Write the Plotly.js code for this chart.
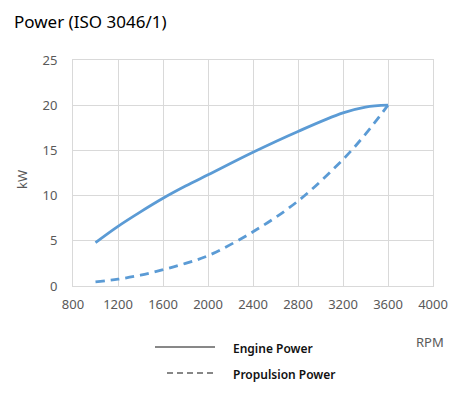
<!DOCTYPE html>
<html><head><meta charset="utf-8">
<script src="https://cdn.plot.ly/plotly-3.0.1.min.js"></script>
<style>html,body{margin:0;padding:0;background:#fff}#chart{width:468px;height:400px}</style>
</head><body><div id="chart"></div>
<script>
const rpm = [1000, 1200, 1400, 1600, 1800, 2000, 2400, 2800, 3200, 3400, 3600];
const enginePower = [4.8, 6.6, 8.2, 9.7, 11.05, 12.3, 14.8, 17.1, 19.15, 19.8, 20.0];
const propulsionPower = [0.45, 0.75, 1.2, 1.8, 2.5, 3.35, 6.0, 9.4, 14.0, 16.8, 20.0];
const xTicks = [800, 1200, 1600, 2000, 2400, 2800, 3200, 3600, 4000];
const yTicks = [0, 5, 10, 15, 20, 25];
const seriesNames = ['Engine Power', 'Propulsion Power'];

const blue = '#5B9BD5';
const grid = '#d9d9d9';
const tickFont = {family: 'Noto Sans, Open Sans, sans-serif', size: 13, color: '#595959'};
const legFont = {family: 'Noto Sans, sans-serif', size: 12, color: '#111', weight: 600};

const traces = [
  {x: rpm, y: enginePower, name: seriesNames[0], mode: 'lines', line: {color: blue, width: 2.8, shape: 'spline'}},
  {x: rpm, y: propulsionPower, name: seriesNames[1], mode: 'lines', line: {color: blue, width: 2.8, shape: 'spline', dash: '9px,6px'}}
];

const W = 360, H = 226;
const px = v => (v - 73) / W;
const py = v => (286 - v) / H;

const layout = {
  width: 468, height: 400,
  margin: {l: 73, r: 35, t: 60, b: 114},
  paper_bgcolor: '#fff', plot_bgcolor: '#fff',
  showlegend: false,
  title: {text: 'Power (ISO 3046/1)', x: 14/468, xanchor: 'left', y: 1 - 22/400, yanchor: 'middle',
          font: {family: 'Noto Sans, Open Sans, sans-serif', size: 17, color: '#000'}},
  xaxis: {range: [800, 4000], tickvals: xTicks, ticktext: xTicks.map(String), showgrid: true, gridcolor: grid, gridwidth: 1,
          showline: true, mirror: true, linecolor: grid, linewidth: 1, zeroline: false, ticks: '',
          tickfont: tickFont, ticklabelstandoff: 6, fixedrange: true},
  yaxis: {range: [0, 25], tickvals: yTicks, ticktext: yTicks.map(String), showgrid: true, gridcolor: grid, gridwidth: 1,
          showline: true, mirror: true, linecolor: grid, linewidth: 1, zeroline: false, ticks: '',
          tickfont: tickFont, ticklabelstandoff: 12, fixedrange: true},
  annotations: [
    {text: 'kW', xref: 'paper', yref: 'paper', x: px(22), y: py(180), textangle: -90, showarrow: false,
     xanchor: 'center', yanchor: 'middle', font: tickFont},
    {text: 'RPM', xref: 'paper', yref: 'paper', x: px(430), y: py(342), showarrow: false,
     xanchor: 'center', yanchor: 'middle', font: tickFont},
    {text: seriesNames[0], xref: 'paper', yref: 'paper', x: px(231), y: py(348), showarrow: false,
     xanchor: 'left', yanchor: 'middle', font: legFont},
    {text: seriesNames[1], xref: 'paper', yref: 'paper', x: px(231), y: py(374), showarrow: false,
     xanchor: 'left', yanchor: 'middle', font: legFont}
  ],
  shapes: [
    {type: 'line', xref: 'paper', yref: 'paper', x0: px(155), x1: px(215), y0: py(347), y1: py(347),
     line: {color: '#111', width: 1}},
    {type: 'line', xref: 'paper', yref: 'paper', x0: px(167), x1: px(215), y0: py(373), y1: py(373),
     line: {color: '#111', width: 1.2, dash: '6px,4px'}}
  ]
};

Plotly.newPlot('chart', traces, layout, {displayModeBar: false, staticPlot: true});
</script></body></html>
